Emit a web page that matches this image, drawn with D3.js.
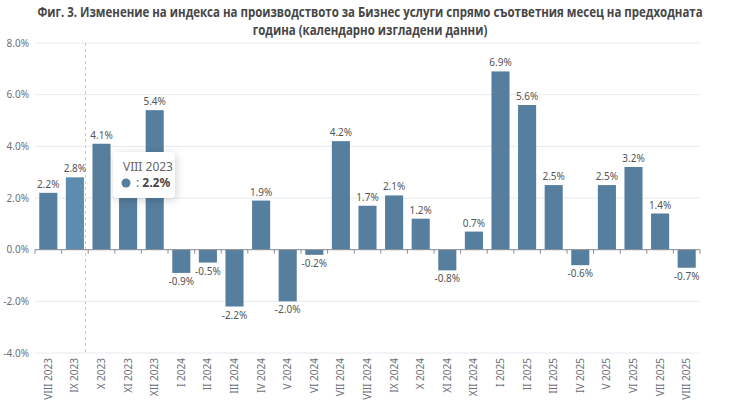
<!DOCTYPE html>
<html lang="bg">
<head>
    <meta charset="UTF-8">
    <title>Фиг. 3</title>
    <script src="https://d3js.org/d3.v7.min.js"></script>
    <style>
        body { margin: 0; background: #fff; }
        svg { display: block; }
    </style>
</head>
<body>
<div id="chart"></div>

<script>
    // months shown on the x axis
    var months = ["VIII 2023", "IX 2023", "X 2023", "XI 2023", "XII 2023",
        "I 2024", "II 2024", "III 2024", "IV 2024", "V 2024", "VI 2024", "VII 2024",
        "VIII 2024", "IX 2024", "X 2024", "XI 2024", "XII 2024",
        "I 2025", "II 2025", "III 2025", "IV 2025", "V 2025", "VI 2025", "VII 2025", "VIII 2025"];

    // % change vs same month previous year
    var values = [2.2, 2.8, 4.1, 2.0, 5.4,
        -0.9, -0.5, -2.2, 1.9, -2.0, -0.2, 4.2,
        1.7, 2.1, 1.2, -0.8, 0.7,
        6.9, 5.6, 2.5, -0.6, 2.5, 3.2, 1.4, -0.7];

    var yTicks = [-4, -2, 0, 2, 4, 6, 8];

    var titleLines = ["Фиг. 3. Изменение на индекса на производството за Бизнес услуги спрямо съответния месец на предходната",
        "година (календарно изгладени данни)"];

    var width = 740, height = 419;
    var margin = {top: 43, right: 40, bottom: 66, left: 35};

    var svg = d3.select("#chart").append("svg")
        .attr("width", width)
        .attr("height", height);

    // title - the original uses a condensed bold face, so squeeze it horizontally
    var titleG = svg.append("g");
    var titleText = titleG.selectAll("text")
        .data(titleLines)
        .enter().append("text")
        .attr("x", 0)
        .attr("y", function(d, i) { return 17 + i * 18; })
        .attr("text-anchor", "middle")
        .style("font-family", "'Open Sans', sans-serif")
        .style("font-weight", "bold")
        .style("font-size", "13.5px")
        .style("fill", "#464646")
        .text(function(d) { return d; });
    var squeeze = 666 / titleText.node().getComputedTextLength();
    titleG.attr("transform", "translate(" + (width / 2) + ",0) scale(" + squeeze + ",1)");

    var x = d3.scaleBand()
        .domain(months)
        .range([margin.left, width - margin.right])
        .paddingInner(0.32)
        .paddingOuter(0.16);

    var y = d3.scaleLinear()
        .domain([-4, 8])
        .range([height - margin.bottom, margin.top]);

    // grid lines
    svg.append("g").selectAll("line")
        .data(yTicks)
        .enter().append("line")
        .attr("x1", margin.left)
        .attr("x2", width - margin.right)
        .attr("y1", function(d) { return y(d); })
        .attr("y2", function(d) { return y(d); })
        .attr("stroke", "#e6eaf2")
        .attr("stroke-width", 1);

    // y labels
    svg.append("g").selectAll("text")
        .data(yTicks)
        .enter().append("text")
        .attr("x", margin.left - 6)
        .attr("y", function(d) { return y(d); })
        .attr("dy", "0.35em")
        .attr("text-anchor", "end")
        .style("font-family", "'Noto Sans', sans-serif")
        .style("font-size", "10px")
        .style("fill", "#6e7079")
        .text(function(d) { return d.toFixed(1) + "%"; });

    // hover pointer line
    var pointerX = x("IX 2023") + x.bandwidth() + 1.5;
    svg.append("line")
        .attr("x1", pointerX).attr("x2", pointerX)
        .attr("y1", y(8)).attr("y2", y(-4))
        .attr("stroke", "#c8c8c8")
        .attr("stroke-dasharray", "3,3");

    // bars
    svg.append("g").selectAll("rect")
        .data(values)
        .enter().append("rect")
        .attr("x", function(d, i) { return x(months[i]); })
        .attr("width", x.bandwidth())
        .attr("y", function(d) { return y(Math.max(d, 0)); })
        .attr("height", function(d) { return Math.abs(y(d) - y(0)); })
        .attr("fill", function(d, i) { return i === 1 ? "#5e8cae" : "#567f9f"; });

    // value labels (XI 2023 ends up under the tooltip, as in the original)
    svg.append("g").selectAll("text")
        .data(values)
        .enter().append("text")
        .attr("x", function(d, i) { return x(months[i]) + x.bandwidth() / 2; })
        .attr("y", function(d) { return d >= 0 ? y(d) - 5 : y(d) + 12; })
        .attr("text-anchor", "middle")
        .style("font-family", "'Noto Sans', sans-serif")
        .style("font-size", "10px")
        .style("fill", "#555")
        .text(function(d) { return d.toFixed(1) + "%"; });

    // x axis
    var axis = svg.append("g")
        .attr("transform", "translate(0," + y(0) + ")");
    axis.append("line")
        .attr("x1", margin.left).attr("x2", width - margin.right)
        .attr("stroke", "#8a8d96");
    var step = x.step();
    axis.selectAll(".tick")
        .data(d3.range(months.length + 1))
        .enter().append("line")
        .attr("x1", function(i) { return margin.left + i * step; })
        .attr("x2", function(i) { return margin.left + i * step; })
        .attr("y1", 0).attr("y2", 4)
        .attr("stroke", "#8a8d96");

    // x labels, rotated
    svg.append("g").selectAll("text")
        .data(months)
        .enter().append("text")
        .attr("transform", function(d) {
            return "translate(" + (x(d) + x.bandwidth() / 2) + "," + (y(-4) + 5) + ") rotate(-90)";
        })
        .attr("dy", "0.35em")
        .attr("text-anchor", "end")
        .style("font-family", "'Noto Sans', sans-serif")
        .style("font-size", "10px")
        .style("fill", "#6e7079")
        .text(function(d) { return d; });

    // tooltip
    var tip = svg.append("g")
        .attr("transform", "translate(113,152)");
    tip.append("rect")
        .attr("width", 62).attr("height", 46)
        .attr("rx", 4)
        .attr("fill", "#fff")
        .style("filter", "drop-shadow(1px 2px 4px rgba(0,0,0,0.18))");
    tip.append("text")
        .attr("x", 10).attr("y", 19)
        .style("font-family", "'Noto Sans', sans-serif")
        .style("font-size", "12px")
        .style("fill", "#666")
        .text(months[0]);
    tip.append("circle")
        .attr("cx", 13).attr("cy", 31)
        .attr("r", 4.5)
        .attr("fill", "#567f9f");
    var t2 = tip.append("text")
        .attr("x", 23).attr("y", 35)
        .style("font-family", "'Noto Sans', sans-serif")
        .style("font-size", "12px")
        .style("fill", "#666");
    t2.append("tspan").text(": ");
    t2.append("tspan")
        .style("font-weight", "bold")
        .style("fill", "#464646")
        .text(values[0].toFixed(1) + "%");
</script>
</body>
</html>
